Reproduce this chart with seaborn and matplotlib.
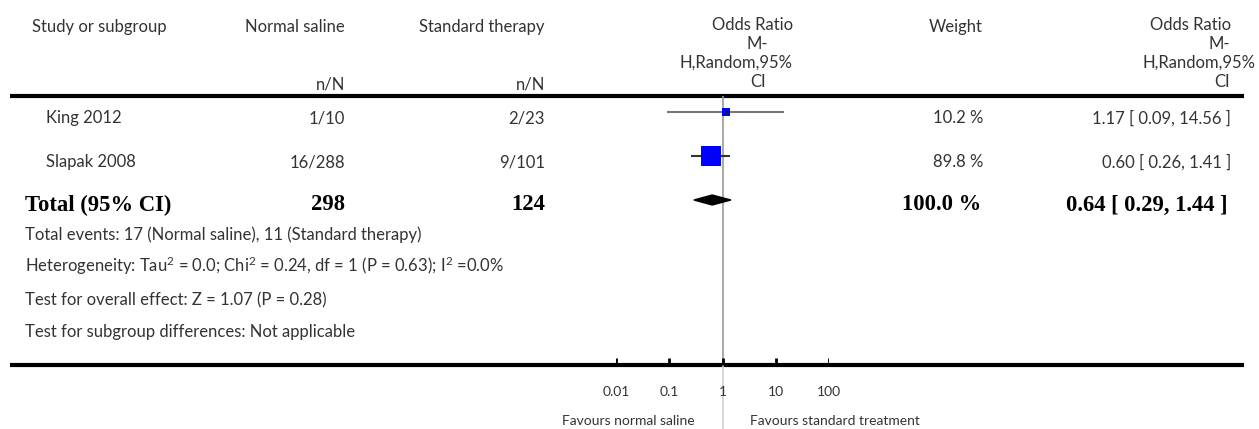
import numpy as np
import pandas as pd
import matplotlib
matplotlib.use("Agg")
import matplotlib.pyplot as plt
import seaborn as sns

# data
studies = ["King 2012", "Slapak 2008"]
saline_nN = ["1/10", "16/288"]
standard_nN = ["2/23", "9/101"]
odds_ratio = [1.17, 0.60]
ci_low = [0.09, 0.26]
ci_high = [14.56, 1.41]
weights = [10.2, 89.8]
total_saline = 298
total_standard = 124
total_or = 0.64
total_low = 0.29
total_high = 1.44
ticks = [0.01, 0.1, 1, 10, 100]
tick_labels = ["0.01", "0.1", "1", "10", "100"]
footnotes = [
    "Total events: 17 (Normal saline), 11 (Standard therapy)",
    "Heterogeneity: Tau$^2$ = 0.0; Chi$^2$ = 0.24, df = 1 (P = 0.63); I$^2$ =0.0%",
    "Test for overall effect: Z = 1.07 (P = 0.28)",
    "Test for subgroup differences: Not applicable",
]

sns.set_theme(style="white")
plt.rcParams["font.family"] = ["Lato", "DejaVu Sans"]
plt.rcParams["mathtext.fontset"] = "custom"
plt.rcParams["mathtext.rm"] = "Lato"
plt.rcParams["mathtext.default"] = "rm"

W, H = 1259, 429
fig = plt.figure(figsize=(W / 100, H / 100), dpi=100)

# text layer in pixel coordinates
ax = fig.add_axes([0, 0, 1, 1])
ax.set_xlim(0, W)
ax.set_ylim(H, 0)
ax.axis("off")

# forest layer: log x axis placed so 0.01..100 spans 616..829 px
x0, x1 = 616, 829
fx = fig.add_axes([x0 / W, 0, (x1 - x0) / W, 1])
fx.patch.set_alpha(0)

txt = "#333333"
fs = 12
serif = ["Liberation Serif", "DejaVu Serif"]
bfs = 16.3

# header
ax.text(32, 27, "Study or subgroup", fontsize=fs, color=txt, va="center")
ax.text(345, 27, "Normal saline", fontsize=fs, color=txt, va="center", ha="right")
ax.text(545, 27, "Standard therapy", fontsize=fs, color=txt, va="center", ha="right")
ax.text(345, 85, "n/N", fontsize=fs, color=txt, va="center", ha="right")
ax.text(545, 85, "n/N", fontsize=fs, color=txt, va="center", ha="right")
ax.text(793, 25, "Odds Ratio", fontsize=fs, color=txt, va="center", ha="right")
ax.text(757, 44, "M-", fontsize=fs, color=txt, va="center", ha="center")
ax.text(793, 63, "H,Random,95%", fontsize=fs, color=txt, va="center", ha="right")
ax.text(758, 82, "CI", fontsize=fs, color=txt, va="center", ha="center")
ax.text(983, 27, "Weight", fontsize=fs, color=txt, va="center", ha="right")
ax.text(1231, 25, "Odds Ratio", fontsize=fs, color=txt, va="center", ha="right")
ax.text(1230, 44, "M-", fontsize=fs, color=txt, va="center", ha="right")
ax.text(1256, 63, "H,Random,95%", fontsize=fs, color=txt, va="center", ha="right")
ax.text(1230, 82, "CI", fontsize=fs, color=txt, va="center", ha="right")

ax.hlines(96, 10, 1244, color="black", lw=3)
ax.hlines(365, 10, 1244, color="black", lw=3)

# study rows
row_y = [112, 156]
for i, name in enumerate(studies):
    ty = row_y[i] + 6
    ax.text(46, ty, name, fontsize=fs, color=txt, va="center")
    ax.text(345, ty, saline_nN[i], fontsize=fs, color=txt, va="center", ha="right")
    ax.text(545, ty, standard_nN[i], fontsize=fs, color=txt, va="center", ha="right")
    ax.text(983, ty, f"{weights[i]:.1f} %", fontsize=fs, color=txt, va="center", ha="right")
    ax.text(1231, ty, f"{odds_ratio[i]:.2f} [ {ci_low[i]:.2f}, {ci_high[i]:.2f} ]",
            fontsize=fs, color=txt, va="center", ha="right")

# zero-effect line
fx.vlines(1, 96, 365, color="#999999", lw=1.2, zorder=1)
fx.vlines(1, 365, H, color="#d0d0d0", lw=1.2, zorder=1)

df = pd.DataFrame({"or": odds_ratio, "lo": ci_low, "hi": ci_high,
                   "w": weights, "y": row_y})
fx.hlines(df["y"], df["lo"], df["hi"], color=["#777777", "#333333"], lw=1.5, zorder=2)
sns.scatterplot(data=df, x="or", y="y", size="w", sizes=(30, 210),
                size_norm=(weights[0], weights[1]), marker="s", color="#0000ff",
                edgecolor="none", legend=False, ax=fx, zorder=3)
fx.vlines(df["or"], df["y"] - 2, df["y"] + 2, color="#222222", lw=1, zorder=4)

# pooled diamond
dy = 200
fx.fill([total_low, total_or, total_high, total_or],
        [dy, dy - 5, dy, dy + 5], color="black", zorder=3)

fx.set_xscale("log")
fx.set_xlim(0.01, 100)
fx.set_ylim(H, 0)
fx.axis("off")

# total row
for xr, s in [(345, str(total_saline)), (545, str(total_standard)), (981, "100.0 %"),
              (1228, f"{total_or:.2f} [ {total_low:.2f}, {total_high:.2f} ]")]:
    ax.text(xr, 205, s, fontsize=bfs, fontweight="bold", family=serif,
            color="black", va="center", ha="right")
ax.text(25, 205, "Total (95% CI)", fontsize=bfs, fontweight="bold", family=serif,
        color="black", va="center")

for note, yy in zip(footnotes, [235, 266, 300, 332]):
    ax.text(25, yy, note, fontsize=fs, color=txt, va="center")

# axis ticks and labels
fx.vlines(ticks, 358, 365, color="black", lw=2)
for t, lab in zip(ticks, tick_labels):
    fx.text(t, 392, lab, fontsize=10, color=txt, ha="center", va="center")
ax.text(695, 421, "Favours normal saline", fontsize=10, color=txt, ha="right", va="center")
ax.text(750, 421, "Favours standard treatment", fontsize=10, color=txt, ha="left", va="center")

fig.savefig("out.png", dpi=100, facecolor="white")
